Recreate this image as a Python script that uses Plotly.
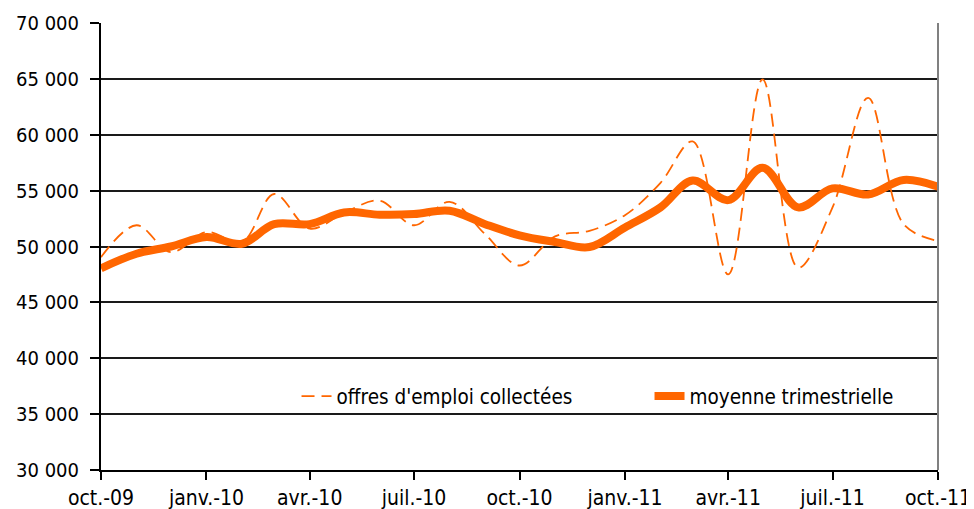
import plotly.graph_objects as go

months = ["2009-10-01", "2009-11-01", "2009-12-01", "2010-01-01", "2010-02-01", "2010-03-01",
          "2010-04-01", "2010-05-01", "2010-06-01", "2010-07-01", "2010-08-01", "2010-09-01",
          "2010-10-01", "2010-11-01", "2010-12-01", "2011-01-01", "2011-02-01", "2011-03-01",
          "2011-04-01", "2011-05-01", "2011-06-01", "2011-07-01", "2011-08-01", "2011-09-01",
          "2011-10-01"]

offres = [49050, 51900, 49500, 51300, 50400, 54700, 51600, 53000, 54100, 51900, 54000, 51100,
          48300, 50900, 51400, 52800, 55700, 59400, 47500, 64950, 48100, 53500, 63300, 52000,
          50500]

moyenne = [48050, 49350, 50000, 50850, 50250, 52000, 52000, 53050, 52850, 52900, 53200, 52000,
           51000, 50400, 49950, 51700, 53500, 55900, 54150, 57050, 53500, 55200, 54650, 55950,
           55350]

tick_dates = ["2009-10-01", "2010-01-01", "2010-04-01", "2010-07-01", "2010-10-01",
              "2011-01-01", "2011-04-01", "2011-07-01", "2011-10-01"]
tick_labels = ["oct.-09", "janv.-10", "avr.-10", "juil.-10", "oct.-10",
               "janv.-11", "avr.-11", "juil.-11", "oct.-11"]

y_ticks = [30000, 35000, 40000, 45000, 50000, 55000, 60000, 65000, 70000]

orange = "#FF6600"
font_family = "DejaVu Sans Condensed, Liberation Sans Narrow, sans-serif"

fig = go.Figure()
fig.add_trace(go.Scatter(
    x=months, y=offres, name="offres d'emploi collectées", mode="lines",
    line=dict(color=orange, width=1.8, dash="13px,7px", shape="spline", smoothing=1.0),
))
fig.add_trace(go.Scatter(
    x=months, y=moyenne, name="moyenne trimestrielle", mode="lines",
    line=dict(color=orange, width=8, shape="spline", smoothing=1.0),
))

fig.update_layout(
    width=966, height=501,
    margin=dict(l=93, r=36, t=15, b=39, autoexpand=False),
    paper_bgcolor="white", plot_bgcolor="white",
    font=dict(family=font_family, size=20, color="black"),
    separators=", ",
    showlegend=True,
    legend=dict(
        orientation="h", x=0.2336, y=0.165, xanchor="left", yanchor="middle",
        bgcolor="rgba(0,0,0,0)", font=dict(size=20.5),
        entrywidth=308, entrywidthmode="pixels",
    ),
    xaxis=dict(
        range=[months[0], months[-1]],
        tickvals=tick_dates, ticktext=tick_labels,
        tickfont=dict(size=21),
        showgrid=False, zeroline=False, automargin=False,
        showline=True, linecolor="black", linewidth=2,
        ticks="outside", ticklen=8, tickcolor="black", tickwidth=1.5,
    ),
    yaxis=dict(
        range=[30000, 70000],
        tickvals=y_ticks, tickformat=",d",
        tickfont=dict(size=20),
        showgrid=True, gridcolor="#1a1a1a", gridwidth=2,
        zeroline=False, automargin=False,
        showline=True, linecolor="black", linewidth=2,
        ticks="outside", ticklen=9, tickcolor="black", tickwidth=1.5,
        ticklabelstandoff=7,
    ),
)

# right border of plot area (grey)
fig.add_shape(type="line", xref="paper", yref="paper", x0=1, x1=1, y0=0, y1=1,
              line=dict(color="#808080", width=2))

fig.write_html("out.html")
